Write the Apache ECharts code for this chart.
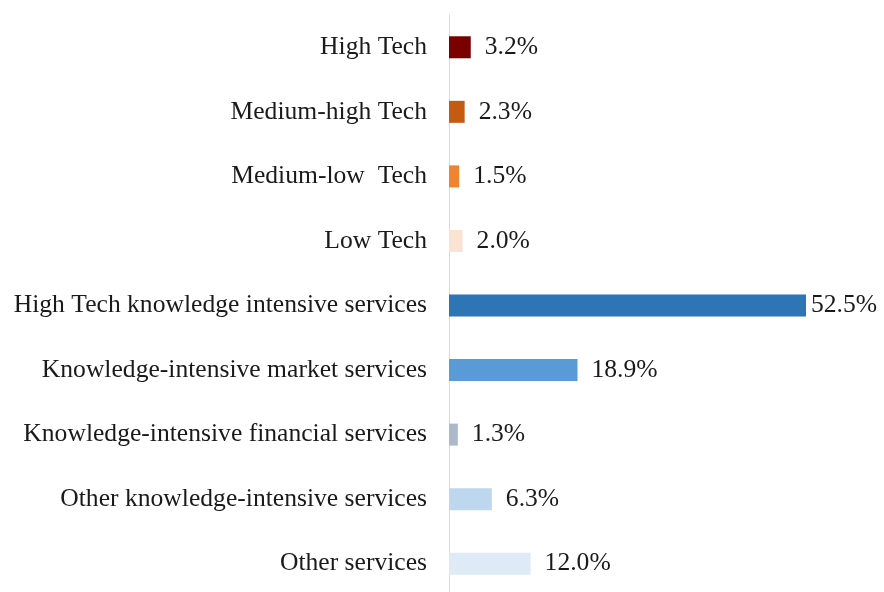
<!DOCTYPE html>
<html>
<head>
<meta charset="utf-8">
<script src="https://cdn.jsdelivr.net/npm/echarts@6/dist/echarts.min.js"></script>
<style>html,body{margin:0;padding:0;background:#fff;}#c{width:884px;height:592px;}</style>
</head>
<body>
<div id="c"></div>
<script>
const categories = [
  "High Tech",
  "Medium-high Tech",
  "Medium-low  Tech",
  "Low Tech",
  "High Tech knowledge intensive services",
  "Knowledge-intensive market services",
  "Knowledge-intensive financial services",
  "Other knowledge-intensive services",
  "Other services"
];
const values = [3.2, 2.3, 1.5, 2.0, 52.5, 18.9, 1.3, 6.3, 12.0];
const colors = ["#7A0000", "#C55A11", "#F0832F", "#FBE3D4", "#2E75B6", "#5B9BD5", "#ADB9CA", "#BDD7EE", "#DEEBF7"];

const chart = echarts.init(document.getElementById('c'), null, {renderer: 'canvas'});
chart.setOption({
  animation: false,
  backgroundColor: '#fff',
  grid: {left: 449, top: 15, width: 408, height: 581, outerBoundsMode: 'none', containLabel: false},
  xAxis: {type: 'value', min: 0, max: 60, show: false},
  yAxis: {
    type: 'category',
    data: categories,
    inverse: true,
    axisLine: {show: true, lineStyle: {color: '#D9D9D9', width: 1}},
    axisTick: {show: false},
    axisLabel: {margin: 22, fontFamily: 'Liberation Serif', fontSize: 25.6, color: '#1a1a1a'}
  },
  series: [{
    type: 'bar',
    barWidth: 22,
    data: values.map((v, i) => ({
      value: v,
      itemStyle: {color: colors[i]},
      label: i === 4 ? {distance: 5} : undefined
    })),
    label: {
      show: true, position: 'right', distance: 14,
      fontFamily: 'Liberation Serif', fontSize: 25.6, color: '#1a1a1a',
      formatter: p => p.value.toFixed(1) + '%'
    }
  }]
});
</script>
</body>
</html>
